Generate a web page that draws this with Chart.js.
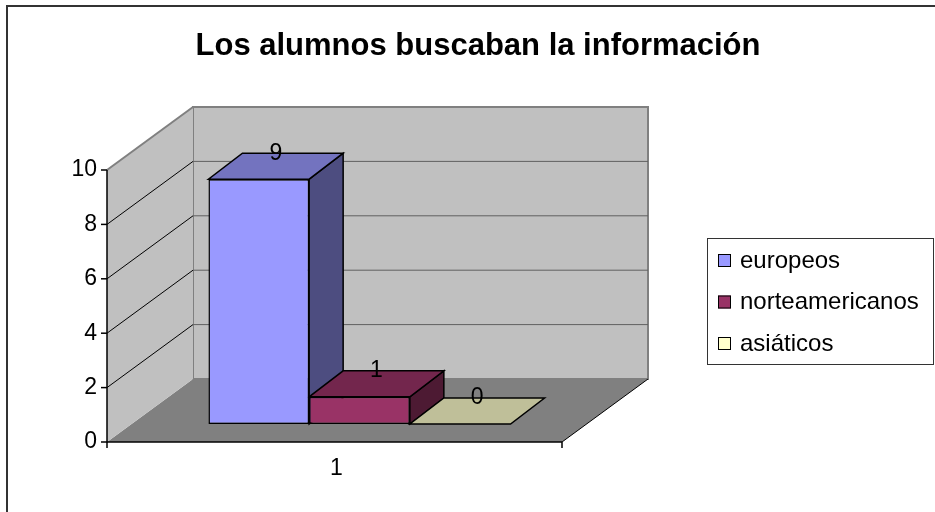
<!DOCTYPE html>
<html>
<head>
<meta charset="utf-8">
<script src="https://cdn.jsdelivr.net/npm/chart.js@4.4.0/dist/chart.umd.min.js"></script>
<style>
  html, body { margin: 0; padding: 0; background: #fff; }
</style>
</head>
<body>
<canvas id="chart" width="935" height="512"></canvas>
<script>
// data
const chartTitle = 'Los alumnos buscaban la información';
const categories = ['1'];
const seriesNames = ['europeos', 'norteamericanos', 'asiáticos'];
const europeos = [9];
const norteamericanos = [1];
const asiaticos = [0];
const yTicks = [0, 2, 4, 6, 8, 10];

const seriesColors = ['#9999ff', '#993366', '#ffffcc'];

// fake 3D offsets, relative to the plane where the bar fronts sit
const FRONT = { x: -25, y: 18 };
const BACK = { x: 61, y: -45 };
const DEPTH = { x: 34, y: -26 };

const FONT = 'Liberation Sans, Arial, sans-serif';
Chart.defaults.font.family = FONT;
Chart.defaults.color = '#000';

function shade(hex, f) {
    const n = parseInt(hex.slice(1), 16);
    const r = Math.round(((n >> 16) & 255) * f);
    const g = Math.round(((n >> 8) & 255) * f);
    const b = Math.round((n & 255) * f);
    return `rgb(${r}, ${g}, ${b})`;
}

function poly(ctx, pts, fill, stroke, lw) {
    ctx.beginPath();
    ctx.moveTo(pts[0][0], pts[0][1]);
    for (let i = 1; i < pts.length; i++) ctx.lineTo(pts[i][0], pts[i][1]);
    ctx.closePath();
    if (fill) { ctx.fillStyle = fill; ctx.fill(); }
    if (stroke) { ctx.strokeStyle = stroke; ctx.lineWidth = lw || 1; ctx.stroke(); }
}

function line(ctx, x1, y1, x2, y2, color, lw) {
    ctx.beginPath();
    ctx.moveTo(x1, y1);
    ctx.lineTo(x2, y2);
    ctx.strokeStyle = color;
    ctx.lineWidth = lw;
    ctx.stroke();
}

function barBox(bar) {
    const p = bar.getProps(['x', 'y', 'base', 'width'], true);
    return {
        x0: p.x - p.width / 2,
        x1: p.x + p.width / 2,
        top: Math.min(p.y, p.base),
        bottom: Math.max(p.y, p.base)
    };
}

// walls, floor, axes and the top / side faces of the bars
const box3d = {
    id: 'box3d',
    beforeDatasetsDraw(chart) {
        const ctx = chart.ctx;
        const { left, right } = chart.chartArea;
        const ys = chart.scales.y;
        const y0 = ys.getPixelForValue(yTicks[0]);
        const yMax = ys.getPixelForValue(yTicks[yTicks.length - 1]);

        const fl = left + FRONT.x, fr = right + FRONT.x, fb = y0 + FRONT.y, ft = yMax + FRONT.y;
        const bl = left + BACK.x, br = right + BACK.x, bb = y0 + BACK.y, bt = yMax + BACK.y;

        ctx.save();
        // floor
        poly(ctx, [[fl, fb], [fr, fb], [br, bb], [bl, bb]], '#808080');
        // back wall
        poly(ctx, [[bl, bt], [br, bt], [br, bb], [bl, bb]], '#c0c0c0', '#808080', 2);
        // side wall
        poly(ctx, [[fl, ft], [bl, bt], [bl, bb], [fl, fb]], '#c0c0c0');
        line(ctx, fl, ft, bl, bt, '#808080', 2);

        // gridlines
        yTicks.forEach((v, i) => {
            if (i === 0 || i === yTicks.length - 1) return;
            const p = ys.getPixelForValue(v);
            line(ctx, fl, p + FRONT.y, bl, p + BACK.y, '#000', 1);
            line(ctx, bl, p + BACK.y, br, p + BACK.y, '#606060', 1);
        });

        // floor edges and axes
        line(ctx, fr, fb, br, bb, '#000', 1);
        line(ctx, fl, ft, fl, fb + 0.5, '#000', 1.5);
        line(ctx, fl, fb, fr, fb, '#000', 1.5);
        yTicks.forEach(v => {
            const p = ys.getPixelForValue(v) + FRONT.y;
            line(ctx, fl - 6, p, fl, p, '#000', 1.5);
        });
        line(ctx, fl, fb, fl, fb + 6, '#000', 1.5);
        line(ctx, fr, fb, fr, fb + 6, '#000', 1.5);

        // bars, left to right: side then top
        chart.data.datasets.forEach((ds, di) => {
            const meta = chart.getDatasetMeta(di);
            meta.data.forEach(bar => {
                const b = barBox(bar);
                if (b.bottom > b.top) {
                    poly(ctx, [[b.x1, b.top], [b.x1 + DEPTH.x, b.top + DEPTH.y],
                        [b.x1 + DEPTH.x, b.bottom + DEPTH.y], [b.x1, b.bottom]],
                        shade(ds.backgroundColor, 0.5), '#000', 1.5);
                }
                poly(ctx, [[b.x0, b.top], [b.x1, b.top], [b.x1 + DEPTH.x, b.top + DEPTH.y],
                    [b.x0 + DEPTH.x, b.top + DEPTH.y]],
                    shade(ds.backgroundColor, 0.75), '#000', 1.5);
            });
        });
        ctx.restore();
    },
    afterDatasetsDraw(chart) {
        const ctx = chart.ctx;
        ctx.save();
        ctx.font = '23px ' + FONT;
        ctx.fillStyle = '#000';
        ctx.textAlign = 'center';
        ctx.textBaseline = 'middle';
        chart.data.datasets.forEach((ds, di) => {
            chart.getDatasetMeta(di).data.forEach((bar, j) => {
                const b = barBox(bar);
                ctx.fillText(String(ds.data[j]), (b.x0 + b.x1) / 2 + DEPTH.x / 2, b.top + DEPTH.y);
            });
        });
        ctx.restore();
    },
    afterDraw(chart) {
        const ctx = chart.ctx;
        ctx.save();
        // title
        ctx.font = 'bold 31px ' + FONT;
        ctx.fillStyle = '#000';
        ctx.textAlign = 'center';
        ctx.textBaseline = 'middle';
        ctx.fillText(chartTitle, 478, 46);

        // legend
        ctx.strokeStyle = '#333';
        ctx.lineWidth = 1;
        ctx.strokeRect(707.5, 238.5, 226, 126);
        ctx.font = '24px ' + FONT;
        ctx.textAlign = 'left';
        chart.data.datasets.forEach((ds, i) => {
            const cy = 260 + i * 41.5;
            ctx.fillStyle = ds.backgroundColor;
            ctx.fillRect(718, cy - 6, 13, 13);
            ctx.strokeStyle = '#000';
            ctx.strokeRect(718.5, cy - 5.5, 12, 12);
            ctx.fillStyle = '#000';
            ctx.fillText(ds.label, 740, cy + 1);
        });

        // chart frame
        ctx.strokeStyle = '#333';
        ctx.lineWidth = 2;
        ctx.strokeRect(7, 6, 940, 520);
        ctx.restore();
    }
};

const ctx = document.getElementById('chart').getContext('2d');
new Chart(ctx, {
    type: 'bar',
    data: {
        labels: categories,
        datasets: [
            { label: seriesNames[0], data: europeos, backgroundColor: seriesColors[0] },
            { label: seriesNames[1], data: norteamericanos, backgroundColor: seriesColors[1] },
            { label: seriesNames[2], data: asiaticos, backgroundColor: seriesColors[2] }
        ]
    },
    options: {
        responsive: false,
        animation: false,
        devicePixelRatio: 1,
        layout: { padding: { top: 152, left: 0, right: 348, bottom: 28 } },
        datasets: {
            bar: {
                borderColor: '#000',
                borderWidth: 1.5,
                borderSkipped: false,
                categoryPercentage: 0.664,
                barPercentage: 1
            }
        },
        plugins: {
            legend: { display: false },
            title: { display: false },
            tooltip: { enabled: false }
        },
        scales: {
            x: {
                grid: { display: false, drawTicks: false },
                border: { display: false },
                ticks: { font: { size: 23 }, padding: 31, labelOffset: -23 },
                afterFit(scale) { scale.height = 60; }
            },
            y: {
                min: 0,
                max: 10,
                grid: { display: false, drawTicks: false },
                border: { display: false },
                ticks: { font: { size: 23 }, padding: 35, labelOffset: 18 },
                afterBuildTicks(scale) { scale.ticks = yTicks.map(v => ({ value: v })); },
                afterFit(scale) { scale.width = 132; }
            }
        }
    },
    plugins: [box3d]
});
</script>
</body>
</html>
